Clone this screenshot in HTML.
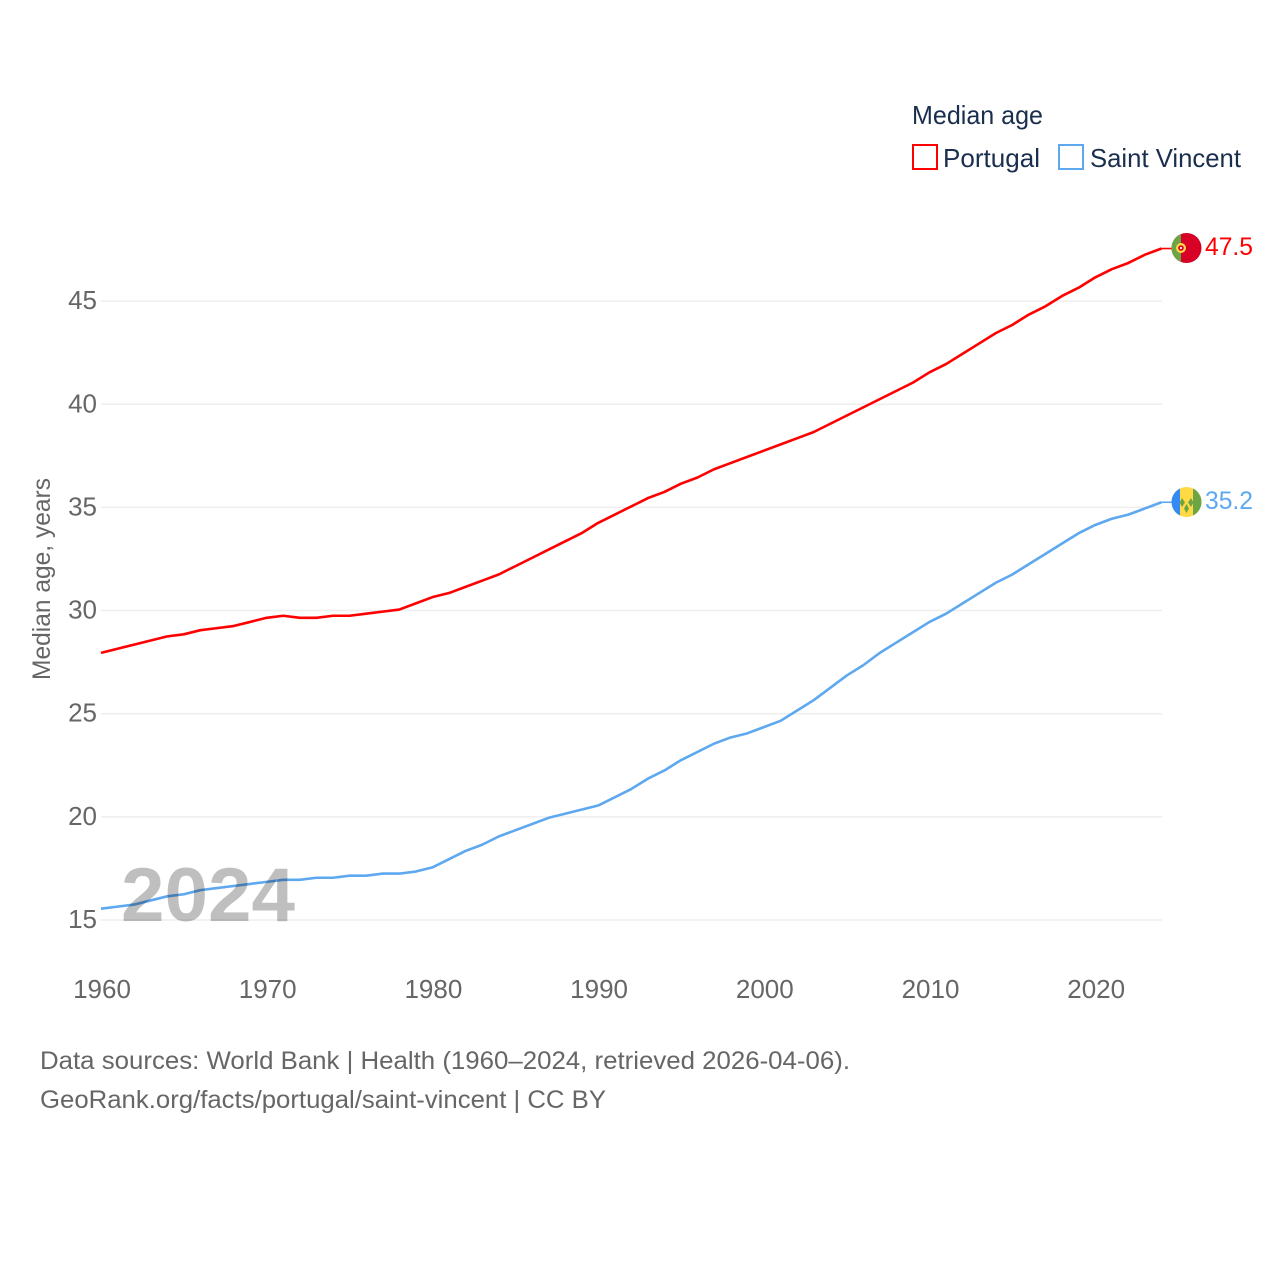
<!DOCTYPE html>
<html lang="en">
<head>
<meta charset="utf-8">
<title>Median age: Portugal vs Saint Vincent</title>
<style>
html,body{margin:0;padding:0;background:#fff;}
svg{display:block;font-family:"Liberation Sans",sans-serif;}
</style>
</head>
<body>
<svg id="chart" width="1280" height="1280" viewBox="0 0 1280 1280" xmlns="http://www.w3.org/2000/svg">
  <rect width="1280" height="1280" fill="#fff"/>
  <g id="grid"></g>
  <g id="yticks"></g>
  <g id="xticks"></g>
  <text transform="translate(50,579) rotate(-90)" text-anchor="middle" font-size="25" fill="#666" textLength="202" lengthAdjust="spacingAndGlyphs">Median age, years</text>
  <g id="series"></g>
  <text x="121" y="921" font-size="76" font-weight="700" fill="#000" fill-opacity="0.25" textLength="174" lengthAdjust="spacingAndGlyphs">2024</text>

  <g>
    <clipPath id="clip-pt"><circle cx="1186.5" cy="248" r="15"/></clipPath>
    <g clip-path="url(#clip-pt)">
      <rect x="1171" y="232" width="31" height="32" fill="#d80027"/>
      <rect x="1171" y="232" width="10" height="32" fill="#6da544"/>
      <circle cx="1181" cy="248" r="5" fill="#ffda44"/>
      <circle cx="1181" cy="248" r="2.8" fill="#d80027"/>
      <circle cx="1181" cy="248" r="1.1" fill="#f0f0f0"/>
    </g>
  </g>
  <g>
    <clipPath id="clip-vc"><circle cx="1186.5" cy="502" r="15"/></clipPath>
    <g clip-path="url(#clip-vc)">
      <rect x="1171" y="486" width="31" height="32" fill="#ffda44"/>
      <rect x="1171" y="486" width="9" height="32" fill="#338af3"/>
      <rect x="1193" y="486" width="9" height="32" fill="#6da544"/>
      <polygon points="1182,498 1185,502.5 1182,507 1179.5,502.5" fill="#6da544"/>
      <polygon points="1191,498 1193.5,502.5 1191,507 1188,502.5" fill="#6da544"/>
      <polygon points="1186.5,504 1189,508.5 1186.5,513 1184,508.5" fill="#6da544"/>
    </g>
  </g>
  <text x="1205" y="255" font-size="25" fill="#ff0000" textLength="48" lengthAdjust="spacingAndGlyphs">47.5</text>
  <text x="1205" y="509" font-size="25" fill="#5ea8f0" textLength="48" lengthAdjust="spacingAndGlyphs">35.2</text>

  <g>
    <text x="912" y="124" font-size="26" fill="#1a2e4d" textLength="131" lengthAdjust="spacingAndGlyphs">Median age</text>
    <g>
      <rect x="913" y="145" width="24" height="24" fill="none" stroke="#ff0000" stroke-width="2"/>
      <text x="943" y="167" font-size="26" fill="#1a2e4d" textLength="97" lengthAdjust="spacingAndGlyphs">Portugal</text>
    </g>
    <g>
      <rect x="1059" y="145" width="24" height="24" fill="none" stroke="#5ea8f0" stroke-width="2"/>
      <text x="1090" y="167" font-size="26" fill="#1a2e4d" textLength="151" lengthAdjust="spacingAndGlyphs">Saint Vincent</text>
    </g>
  </g>

  <g>
    <text x="40" y="1069" font-size="25" fill="#666" textLength="810" lengthAdjust="spacingAndGlyphs">Data sources: World Bank | Health (1960–2024, retrieved 2026-04-06).</text>
    <text x="40" y="1108" font-size="25" fill="#666" textLength="566" lengthAdjust="spacingAndGlyphs">GeoRank.org/facts/portugal/saint-vincent | CC BY</text>
  </g>
</svg>
<script>
const startYear = 1960;
const portugalValues = [27.9,28.1,28.3,28.5,28.7,28.8,29.0,29.1,29.2,29.4,29.6,29.7,29.6,29.6,29.7,29.7,29.8,29.9,30.0,30.3,30.6,30.8,31.1,31.4,31.7,32.1,32.5,32.9,33.3,33.7,34.2,34.6,35.0,35.4,35.7,36.1,36.4,36.8,37.1,37.4,37.7,38.0,38.3,38.6,39.0,39.4,39.8,40.2,40.6,41.0,41.5,41.9,42.4,42.9,43.4,43.8,44.3,44.7,45.2,45.6,46.1,46.5,46.8,47.2,47.5];
const saintVincentValues = [15.5,15.6,15.7,15.9,16.1,16.2,16.4,16.5,16.6,16.7,16.8,16.9,16.9,17.0,17.0,17.1,17.1,17.2,17.2,17.3,17.5,17.9,18.3,18.6,19.0,19.3,19.6,19.9,20.1,20.3,20.5,20.9,21.3,21.8,22.2,22.7,23.1,23.5,23.8,24.0,24.3,24.6,25.1,25.6,26.2,26.8,27.3,27.9,28.4,28.9,29.4,29.8,30.3,30.8,31.3,31.7,32.2,32.7,33.2,33.7,34.1,34.4,34.6,34.9,35.2];
const yTickLabels = [15,20,25,30,35,40,45];
const xTickLabels = [1960,1970,1980,1990,2000,2010,2020];

const NS = 'http://www.w3.org/2000/svg';
function xScale(year){ return 101 + (year - 1960) * 16.57; }
function yScale(value){ return 920 - (value - 15) * 20.63; }
function lineY(value){ return yScale(value) - 1; }
function make(tag, attrs, parent){
  const el = document.createElementNS(NS, tag);
  for (const k in attrs) el.setAttribute(k, attrs[k]);
  parent.appendChild(el);
  return el;
}
const grid = document.getElementById('grid');
const yticks = document.getElementById('yticks');
const xticks = document.getElementById('xticks');
const series = document.getElementById('series');

yTickLabels.forEach(function(v){
  const line = make('line', {x1:101, x2:1162, y1:yScale(v), y2:yScale(v), stroke:'#eeeeee', 'stroke-width':1.5}, grid);
  
  
  const t = make('text', {x:97, y:yScale(v)+8, 'text-anchor':'end', 'font-size':26, fill:'#666'}, yticks);
  
  
  t.textContent = v;
});
xTickLabels.forEach(function(y){
  const t = make('text', {x:xScale(y)+1, y:998, 'text-anchor':'middle', 'font-size':26, fill:'#666'}, xticks);
  
  
  t.textContent = y;
});
function drawLine(values, color, name){
  const pts = values.map(function(v,i){ return xScale(startYear+i).toFixed(2)+','+lineY(v).toFixed(2); });
  const path = make('polyline', {points:pts.join(' '), fill:'none', stroke:color, 'stroke-width':2.6, 'stroke-linejoin':'round'}, series);
  
  
  const last = values[values.length-1];
  const lastX = xScale(startYear+values.length-1);
  const stub = make('line', {x1:lastX, x2:lastX+10, y1:lineY(last), y2:lineY(last), stroke:color, 'stroke-width':1.6}, series);
  
  
}
drawLine(portugalValues, '#ff0000', 'portugal-line');
drawLine(saintVincentValues, '#5ea8f0', 'saint-vincent-line');
</script>
</body>
</html>
